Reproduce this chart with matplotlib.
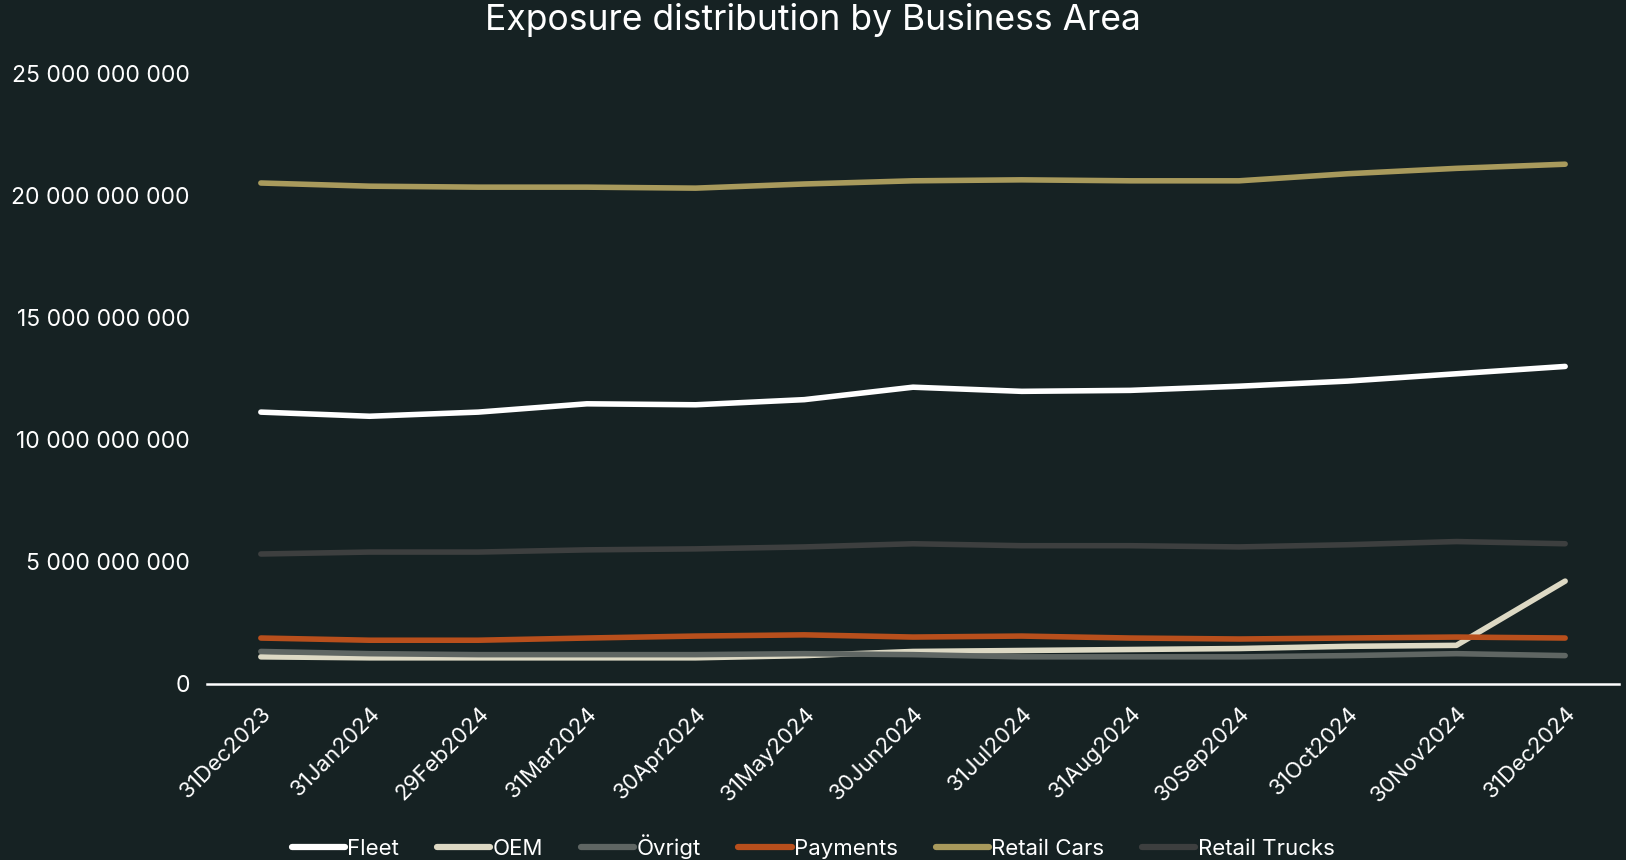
import numpy as np
import matplotlib
matplotlib.use("Agg")
import matplotlib.pyplot as plt
from matplotlib.ticker import FuncFormatter

# --- data ---
dates = ['31Dec2023', '31Jan2024', '29Feb2024', '31Mar2024', '30Apr2024', '31May2024',
         '30Jun2024', '31Jul2024', '31Aug2024', '30Sep2024', '31Oct2024', '30Nov2024', '31Dec2024']

fleet = [11.12, 10.95, 11.12, 11.46, 11.42, 11.63, 12.14, 11.97, 12.01, 12.18, 12.39, 12.69, 12.99]
oem = [1.10, 1.06, 1.06, 1.06, 1.06, 1.15, 1.32, 1.36, 1.40, 1.44, 1.53, 1.57, 4.20]
ovrigt = [1.32, 1.23, 1.19, 1.19, 1.19, 1.23, 1.19, 1.10, 1.10, 1.10, 1.15, 1.23, 1.15]
payments = [1.87, 1.78, 1.78, 1.87, 1.95, 2.00, 1.91, 1.95, 1.87, 1.83, 1.87, 1.91, 1.87]
retail_cars = [20.50, 20.37, 20.33, 20.33, 20.29, 20.46, 20.59, 20.63, 20.59, 20.59, 20.88, 21.10, 21.27]
retail_trucks = [5.31, 5.39, 5.39, 5.48, 5.52, 5.60, 5.73, 5.65, 5.65, 5.60, 5.69, 5.82, 5.73]

series = [
    ('Fleet', fleet, '#ffffff'),
    ('OEM', oem, '#ddd9c4'),
    ('Övrigt', ovrigt, '#5f6663'),
    ('Payments', payments, '#b84f1c'),
    ('Retail Cars', retail_cars, '#a89a5c'),
    ('Retail Trucks', retail_trucks, '#3d3f3f'),
]

bg = '#162223'
plt.rcParams['font.family'] = ['Inter', 'DejaVu Sans']

fig = plt.figure(figsize=(16.26, 8.6), dpi=100, facecolor=bg)
ax = fig.add_axes([0.127, 0.205, 0.869, 0.71])
ax.set_facecolor(bg)

x = np.arange(len(dates))
for name, vals, col in series:
    ax.plot(x, np.array(vals) * 1e9, color=col, lw=4, solid_capstyle='round',
            solid_joinstyle='round', label=name)

ax.set_xlim(-0.5, len(dates) - 0.5)
ax.set_ylim(0, 25e9)
ax.set_yticks(np.arange(0, 25e9 + 1, 5e9))
ax.yaxis.set_major_formatter(FuncFormatter(lambda v, p: f'{int(v):,}'.replace(',', ' ')))
ax.set_xticks(x)
ax.set_xticklabels(dates, rotation=45, ha='right', rotation_mode='anchor')

for s in ['top', 'right', 'left']:
    ax.spines[s].set_visible(False)
ax.spines['bottom'].set_color('white')
ax.spines['bottom'].set_linewidth(1.8)
ax.tick_params(axis='y', colors='white', labelsize=16.5, length=0, pad=12)
ax.tick_params(axis='x', colors='white', labelsize=16, length=0, pad=14)

fig.suptitle('Exposure distribution by Business Area', color='white', fontsize=25.5, y=0.997)

leg = fig.legend(loc='lower center', bbox_to_anchor=(0.5, -0.022), ncol=6, frameon=False,
                 fontsize=16, handlelength=2.4, handletextpad=0.1, columnspacing=1.7)
for t in leg.get_texts():
    t.set_color('white')
for h in leg.get_lines():
    h.set_linewidth(4.5)

fig.savefig('out.png', dpi=100, facecolor=bg)
